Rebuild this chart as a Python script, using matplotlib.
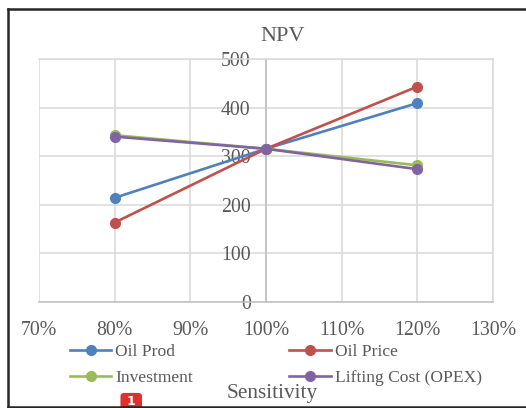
import matplotlib

matplotlib.use("Agg")
import matplotlib.pyplot as plt
from matplotlib.lines import Line2D
from matplotlib.patches import FancyBboxPatch
from matplotlib.ticker import FuncFormatter, MultipleLocator

# sensitivity levels and NPV per driver
sensitivity = [0.8, 1.0, 1.2]
oil_prod = [214, 315, 409]
oil_price = [163, 315, 443]
investment = [343, 315, 281]
lifting_cost = [340, 315, 273]

series = [
    ("Oil Prod", oil_prod, "#4F81BD"),
    ("Oil Price", oil_price, "#C0504D"),
    ("Investment", investment, "#9BBB59"),
    ("Lifting Cost (OPEX)", lifting_cost, "#8064A2"),
]

TEXT = "#595959"
GRID = "#d9d9d9"

plt.rcParams["font.family"] = ["Liberation Serif", "DejaVu Serif"]

fig = plt.figure(figsize=(5.26, 4.08), dpi=100)
ax = fig.add_axes([0.0741, 0.2605, 0.863, 0.595])

handles = {}
for name, vals, color in series:
    (h,) = ax.plot(sensitivity, vals, color=color, lw=1.9, marker="o",
                   markersize=7, label=name, zorder=3)
    handles[name] = h

ax.set_xlim(0.7, 1.3)
ax.set_ylim(0, 500)
ax.xaxis.set_major_locator(MultipleLocator(0.1))
ax.yaxis.set_major_locator(MultipleLocator(100))
ax.xaxis.set_major_formatter(FuncFormatter(lambda v, p: f"{v * 100:.0f}%"))
ax.grid(True, color=GRID, lw=1.1, zorder=0)
ax.set_axisbelow(True)

for s in ["top", "right", "bottom"]:
    ax.spines[s].set_color(GRID)
    ax.spines[s].set_linewidth(1.1)
ax.spines["left"].set_position(("data", 1.0))
ax.spines["left"].set_color("#bfbfbf")
ax.spines["left"].set_linewidth(1.2)
ax.spines["bottom"].set_color("#bfbfbf")

ax.tick_params(axis="both", length=0, labelsize=14.3, labelcolor=TEXT)
ax.tick_params(axis="x", pad=14)
ax.tick_params(axis="y", pad=11)
ax.set_facecolor("white")

fig.text(0.538, 0.911, "NPV", ha="center", va="center", fontsize=16, color=TEXT)
fig.text(0.517, 0.035, "Sensitivity", ha="center", va="center", fontsize=15.3, color=TEXT)

order = ["Oil Prod", "Investment", "Oil Price", "Lifting Cost (OPEX)"]
fig.legend([handles[n] for n in order], order, ncol=2, loc="center left",
           bbox_to_anchor=(0.133, 0.105), frameon=False, fontsize=12.6,
           labelcolor=TEXT, handlelength=2.35, handletextpad=0.25,
           columnspacing=5.5, labelspacing=0.55, borderaxespad=0, borderpad=0)

# screenshot frame
fig.add_artist(Line2D([0.016, 0.016], [0.003, 0.978], color="#262626", lw=1.8))
fig.add_artist(Line2D([0.016, 1.0], [0.978, 0.978], color="#262626", lw=1.8))
fig.add_artist(Line2D([0.016, 1.0], [0.003, 0.003], color="#262626", lw=1.8))

# red badge
badge = FancyBboxPatch((0.229, -0.02), 0.041, 0.057, boxstyle="round,pad=0,rounding_size=0.008",
                       transform=fig.transFigure, facecolor="#e03030", edgecolor="none")
fig.add_artist(badge)
fig.text(0.2495, 0.016, "1", ha="center", va="center", fontsize=9, color="white",
         fontweight="bold", family="DejaVu Sans")

fig.savefig("out.png", dpi=100)
